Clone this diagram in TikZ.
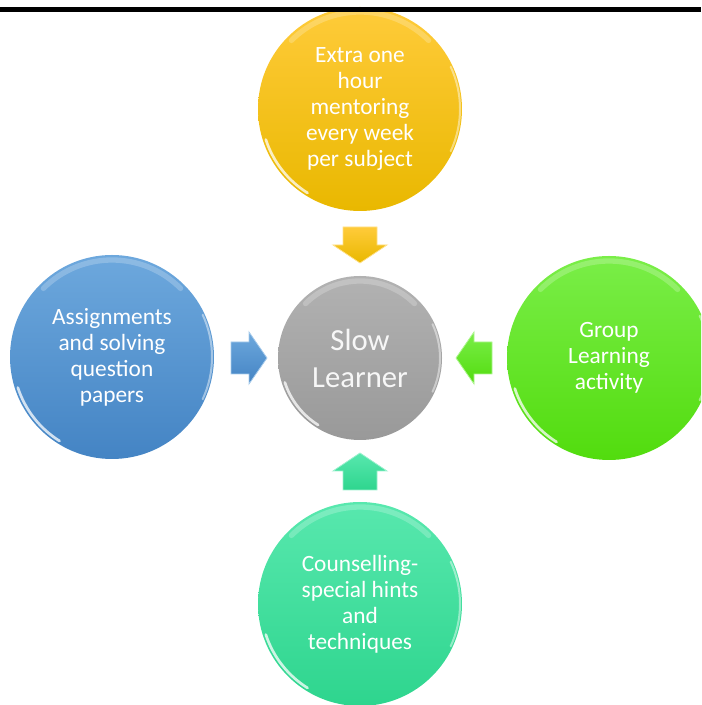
\documentclass[tikz,border=0pt]{standalone}
\usepackage{fontspec}
\setmainfont{Carlito}
\definecolor{yelA}{HTML}{FFCB3A}
\definecolor{yelB}{HTML}{E9B800}
\definecolor{bluA}{HTML}{6DA8DD}
\definecolor{bluB}{HTML}{4484C4}
\definecolor{gryA}{HTML}{B2B2B2}
\definecolor{gryB}{HTML}{999999}
\definecolor{grnA}{HTML}{7AEE48}
\definecolor{grnB}{HTML}{52DC0E}
\definecolor{tealA}{HTML}{58E8AE}
\definecolor{tealB}{HTML}{2ED58E}
\newcommand\glassy[2]{%
  \draw[white, opacity=.22, line width=4pt, line cap=round] ([shift={(135:#2-4)}]#1.center) arc[start angle=135, end angle=45, radius=#2-4];
  \draw[white, opacity=.75, line width=2pt, line cap=round] ([shift={(198:#2-2)}]#1.center) arc[start angle=198, end angle=238, radius=#2-2];
  \draw[white, opacity=.45, line width=1.5pt, line cap=round] ([shift={(25:#2-1)}]#1.center) arc[start angle=25, end angle=-25, radius=#2-1];
}
\begin{document}
\begin{tikzpicture}[x=0.75pt,y=0.75pt,
  bubble/.style={circle, minimum size=153pt, inner sep=0pt, text=white, align=center,
    font=\fontsize{17.5}{19.5}\selectfont},
  hub/.style={circle, minimum size=123pt, inner sep=0pt, text=white!94!gray, align=center,
    font=\fontsize{23}{27.75}\selectfont},
  blockarrow/.style={line width=0.6pt}]
\useasboundingbox (0,0) rectangle (701,705);
\begin{scope}
\clip (0,0) rectangle (701,705);
% circles
\node[bubble, top color=yelA, bottom color=yelB] (extra) at (360,596) {Extra one\\hour\\mentoring\\every week\\per subject};
\node[bubble, top color=bluA, bottom color=bluB] (assign) at (112,348) {Assignments\\and solving\\question\\papers};
\node[hub, top color=gryA, bottom color=gryB] (slow) at (360,347) {Slow\\Learner};
\node[bubble, top color=grnA, bottom color=grnB] (group) at (609,347) {Group\\Learning\\activity};
\node[bubble, top color=tealA, bottom color=tealB] (couns) at (360,101) {Counselling-\\special hints\\and\\techniques};
\glassy{extra}{101}
\glassy{assign}{101}
\glassy{slow}{81}
\glassy{group}{101}
\glassy{couns}{101}
% block arrows
\shade[top color=yelA, bottom color=yelB, draw=yelA!60!white, blockarrow]
  (343,478) -- (377,478) -- (377,460) -- (387,460) -- (360,442) -- (333,460) -- (343,460) -- cycle;
\shade[top color=bluA, bottom color=bluB, draw=bluA!60!white, blockarrow]
  (231,363) -- (249,363) -- (249,373) -- (267,347) -- (249,321) -- (249,331) -- (231,331) -- cycle;
\shade[top color=grnA, bottom color=grnB, draw=grnA!60!white, blockarrow]
  (492,363) -- (474,363) -- (474,373) -- (456,347) -- (474,321) -- (474,331) -- (492,331) -- cycle;
\shade[top color=tealA, bottom color=tealB, draw=tealA!60!white, blockarrow]
  (343,215) -- (377,215) -- (377,234) -- (387,234) -- (360,252) -- (333,234) -- (343,234) -- cycle;
% top rule
\fill[black] (0,693) rectangle (701,697.5);
\end{scope}
\end{tikzpicture}
\end{document}
